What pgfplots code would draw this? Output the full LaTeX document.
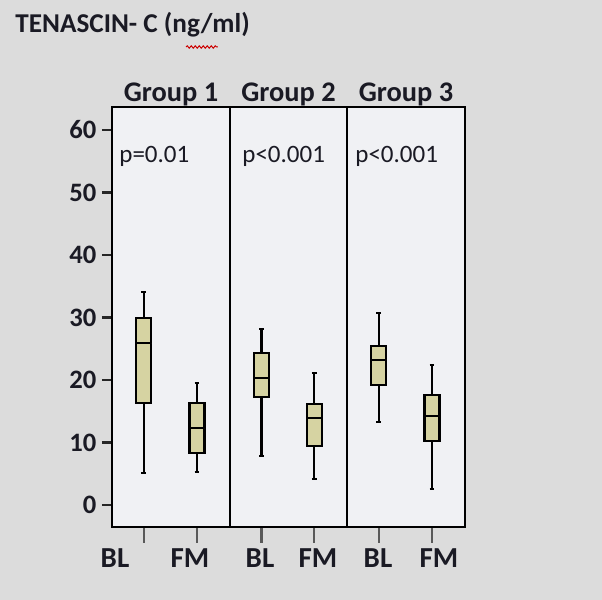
\documentclass[border=0pt]{standalone}
\usepackage{fontspec}
\setmainfont{Carlito}
\usepackage{pgfplots}
\pgfplotsset{compat=1.18}
\usepgfplotslibrary{statistics}
\usetikzlibrary{decorations.pathmorphing}
\definecolor{bgc}{HTML}{DCDCDC}
\definecolor{panelc}{HTML}{F0F1F4}
\definecolor{boxc}{HTML}{D6D3A2}
\definecolor{txt}{HTML}{1A1A24}
\pgfplotsset{
 panel/.style={
  scale only axis, anchor=south west, height=210pt,
  xmin=0, xmax=1, ymin=-3.52, ymax=63.68,
  axis background/.style={fill=panelc},
  axis line style={line width=1.2pt, black},
  xtick={0.27,0.72}, xticklabels={,,}, xtick pos=bottom,
  tick align=outside,
  xtick style={/pgfplots/major tick length=8pt, line width=1.2pt, black!65},
  ytick=\empty,
  clip=false,
  boxplot/draw direction=y,
  boxplot/box extend=0.127,
  boxplot/whisker extend=0.04,
 },
 bx/.style={draw=black, line width=1.1pt, fill=boxc, solid},
}
\begin{document}
\begin{tikzpicture}
\fill[bgc] (0,0) rectangle (301pt,300pt);
% Group 1
\begin{axis}[panel, at={(56pt,36.5pt)}, width=59pt,
  ytick={0,10,20,30,40,50,60}, ytick pos=left,
  ytick style={/pgfplots/major tick length=5pt, line width=1.2pt, black!85},
  yticklabel style={font=\bfseries\fontsize{13.3}{15}\selectfont, text=txt},
  /pgf/number format/assume math mode=true]
\addplot[bx, boxplot prepared={draw position=0.27, lower whisker=5.1, lower quartile=16.3, median=25.9, upper quartile=29.9, upper whisker=34.1}] coordinates {};
\addplot[bx, boxplot prepared={draw position=0.72, lower whisker=5.3, lower quartile=8.3, median=12.3, upper quartile=16.3, upper whisker=19.5}] coordinates {};
\end{axis}
% Group 2
\begin{axis}[panel, at={(115pt,36.5pt)}, width=58.5pt]
\addplot[bx, boxplot prepared={draw position=0.27, lower whisker=7.8, lower quartile=17.3, median=20.3, upper quartile=24.3, upper whisker=28.2}] coordinates {};
\addplot[bx, boxplot prepared={draw position=0.72, lower whisker=4.2, lower quartile=9.4, median=13.9, upper quartile=16.2, upper whisker=21.1}] coordinates {};
\end{axis}
% Group 3
\begin{axis}[panel, at={(173.5pt,36.5pt)}, width=59pt]
\addplot[bx, boxplot prepared={draw position=0.27, lower whisker=13.3, lower quartile=19.2, median=23.2, upper quartile=25.4, upper whisker=30.7}] coordinates {};
\addplot[bx, boxplot prepared={draw position=0.72, lower whisker=2.5, lower quartile=10.2, median=14.2, upper quartile=17.6, upper whisker=22.4}] coordinates {};
\end{axis}
\begin{scope}[x=0.5pt, y=-0.5pt, yshift=300pt]
\node[anchor=base west, inner sep=0pt, text=txt, font=\bfseries\fontsize{13.6}{15}\selectfont] at (15,33) {TENASCIN- C (ng/ml)};
\draw[red!80!black, line width=0.5pt, decorate, decoration={snake, amplitude=0.6pt, segment length=2pt}] (186,47) -- (218,47);
\foreach \x/\t in {171/Group 1, 288.5/Group 2, 406/Group 3}
  \node[anchor=base, inner sep=0pt, text=txt, font=\bfseries\fontsize{14.2}{15}\selectfont] at (\x,102) {\t};
\foreach \x/\t in {115/BL, 190/FM, 260/BL, 318/FM, 378/BL, 439/FM}
  \node[anchor=base, inner sep=0pt, text=txt, font=\bfseries\fontsize{14.5}{15}\selectfont] at (\x,568) {\t};
\node[anchor=base west, inner sep=0pt, text=txt, font=\fontsize{12.5}{15}\selectfont] at (119,163) {p=0.01};
\node[anchor=base west, inner sep=0pt, text=txt, font=\fontsize{12.5}{15}\selectfont] at (242,163) {p<0.001};
\node[anchor=base west, inner sep=0pt, text=txt, font=\fontsize{12.5}{15}\selectfont] at (355,163) {p<0.001};
\end{scope}
\end{tikzpicture}
\end{document}
